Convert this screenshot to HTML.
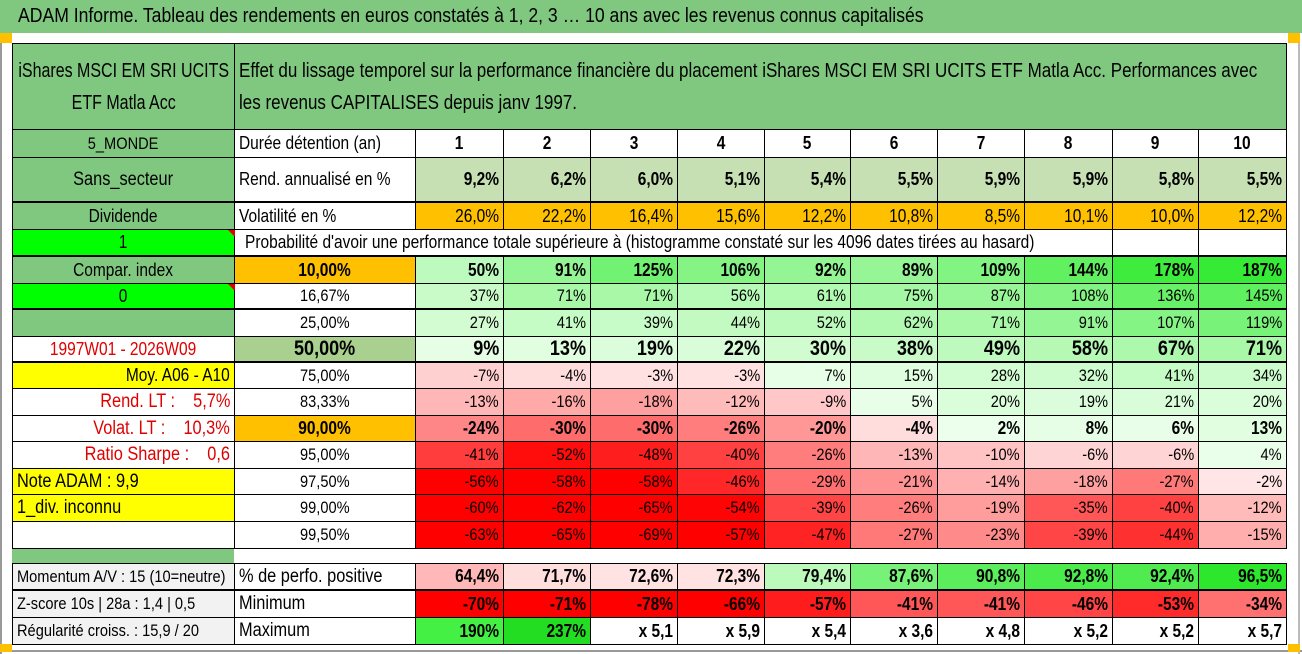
<!DOCTYPE html>
<html><head><meta charset="utf-8">
<style>
body{margin:0;width:1302px;height:654px;overflow:hidden;background:#fff;position:relative;font-family:"Liberation Sans",sans-serif;color:#000}
.c{position:absolute;box-sizing:border-box;border-right:1px solid #000;border-bottom:1px solid #000;display:flex;align-items:center;font-size:17px;white-space:nowrap;overflow:hidden}
.c span{display:inline-block;transform:scaleX(0.86)}
.r{justify-content:flex-end;padding-right:4px}
.r span{transform-origin:right center}
.m{justify-content:center}
.l{justify-content:flex-start;padding-left:4px}
.l span{transform-origin:left center}
.b{font-weight:bold}
</style></head><body>
<div style="position:absolute;left:0;top:0;width:1302px;height:33px;background:#80c880;font-size:20px;line-height:33px;padding-left:18px;box-sizing:border-box;white-space:nowrap"><span style="display:inline-block;transform:scaleX(0.88);transform-origin:left center">ADAM Informe. Tableau des rendements en euros constatés à 1, 2, 3 … 10 ans avec les revenus connus capitalisés</span></div>
<div style="position:absolute;left:0;top:33px;width:2px;height:621px;background:#999"></div>
<div style="position:absolute;left:1298px;top:33px;width:2px;height:621px;background:#bbb"></div>
<div style="position:absolute;left:0;top:650px;width:1302px;height:2px;background:#999"></div>
<div style="position:absolute;left:0;top:33px;width:12px;height:10px;background:#ffc000"></div>
<div style="position:absolute;left:1288px;top:33px;width:12px;height:10px;background:#ffc000"></div>
<div style="position:absolute;left:0;top:644px;width:12px;height:8px;background:#ffc000"></div>
<div style="position:absolute;left:1288px;top:644px;width:12px;height:8px;background:#ffc000"></div>
<div id="t"></div>
<script>
const durations=[1,2,3,4,5,6,7,8,9,10];
const rendement=[9.2,6.2,6.0,5.1,5.4,5.5,5.9,5.9,5.8,5.5];
const volatilite=[26.0,22.2,16.4,15.6,12.2,10.8,8.5,10.1,10.0,12.2];
const probLevels=["10,00%","16,67%","25,00%","50,00%","75,00%","83,33%","90,00%","95,00%","97,50%","99,00%","99,50%"];
const p10=[50,91,125,106,92,89,109,144,178,187];
const p16=[37,71,71,56,61,75,87,108,136,145];
const p25=[27,41,39,44,52,62,71,91,107,119];
const p50=[9,13,19,22,30,38,49,58,67,71];
const p75=[-7,-4,-3,-3,7,15,28,32,41,34];
const p83=[-13,-16,-18,-12,-9,5,20,19,21,20];
const p90=[-24,-30,-30,-26,-20,-4,2,8,6,13];
const p95=[-41,-52,-48,-40,-26,-13,-10,-6,-6,4];
const p975=[-56,-58,-58,-46,-29,-21,-14,-18,-27,-2];
const p99=[-60,-62,-65,-54,-39,-26,-19,-35,-40,-12];
const p995=[-63,-65,-69,-57,-47,-27,-23,-39,-44,-15];
const pctPositive=[64.4,71.7,72.6,72.3,79.4,87.6,90.8,92.8,92.4,96.5];
const minimum=[-70,-71,-78,-66,-57,-41,-41,-46,-53,-34];
const maximum=[190,237,5.1,5.9,5.4,3.6,4.8,5.2,5.2,5.7];

const X=[12,234,415,503,590,677,764,850,937,1024,1112,1198,1286];
const T=document.getElementById('t');
function fmt(v,d){return v.toFixed(d).replace('.',',');}
function lerp(a,b,t){return Math.round(a+(b-a)*t);}
function heat(v){
  if(v>=0){const t=Math.min(1,v/190);return `rgb(${lerp(238,50,t)},${lerp(255,235,t)},${lerp(238,50,t)})`;}
  const t=Math.min(1,-v/55);return `rgb(255,${lerp(238,0,t)},${lerp(238,0,t)})`;
}
function posColor(v){
  if(v<75){const t=Math.min(1,(75-v)/15);return `rgb(255,${lerp(240,160,t)},${lerp(240,160,t)})`;}
  const t=Math.min(1,(v-75)/22);return `rgb(${lerp(225,40,t)},${lerp(255,230,t)},${lerp(225,40,t)})`;
}
function cell(x1,x2,y1,y2,txt,cls,bg,extra,name,bb){
  const d=document.createElement('div');
  d.className='c '+cls;
  d.style.left=x1+'px';d.style.top=y1+'px';d.style.width=(x2-x1+1)+'px';d.style.height=(y2-y1+1)+'px';
  if(bg)d.style.background=bg;
  if(bb)d.style.borderBottom=bb+'px solid #000';
  if(extra)d.style.cssText+=extra;
  const s=document.createElement('span');
  s.textContent=txt;
  d.appendChild(s);
  
  
  T.appendChild(d);return d;
}
const G='#80c880';
const lb=document.createElement('div');lb.style.cssText='position:absolute;left:12px;top:43px;width:1px;height:506px;background:#000';


T.appendChild(lb);
const tl=document.createElement('div');tl.style.cssText='position:absolute;left:12px;top:43px;width:1275px;height:1px;background:#000';


T.appendChild(tl);
let h=cell(13,X[1],44,129,'',"m",G,'font-size:20px;line-height:32px;align-items:flex-start;padding-top:11px;','fund-name');
h.firstChild.innerHTML='iShares MSCI EM SRI UCITS<br>ETF Matla Acc';
h.firstChild.style.textAlign='center';
h.firstChild.style.transform='scaleX(0.8)';
h=cell(X[1]+1,X[12],44,129,'',"l",G,'font-size:20px;line-height:32px;align-items:flex-start;padding-top:11px;','table-description');
h.firstChild.innerHTML='Effet du lissage temporel sur la performance financière du placement iShares MSCI EM SRI UCITS ETF Matla Acc. Performances avec<br>les revenus CAPITALISES depuis janv 1997.';
h.firstChild.style.transform='scaleX(0.85)';
function valueRow(y1,y2,c1,c1cls,c1bg,c1style,c2,c2cls,c2bg,vals,bgf,cls,name,bb,c2style){
  cell(13,X[1],y1,y2,c1,c1cls,c1bg,c1style||'',name+'-label',bb);
  cell(X[1]+1,X[2],y1,y2,c2,c2cls,c2bg,c2style||'',name+'-level',bb);
  vals.forEach((v,i)=>{cell(X[i+2]+1,X[i+3],y1,y2,v.t,cls,v.bg,v.s||'',name+'-d'+durations[i],bb);});
}
valueRow(130,157,'5_MONDE','m',G,'','Durée détention (an)','l','#fff',durations.map(d=>({t:String(d),bg:'#fff',s:'font-size:18px;'})),null,'m b','duration-row',0,'font-size:18px;');
valueRow(158,202,'Sans_secteur','m',G,'font-size:19px;','Rend. annualisé en %','l','#fff',rendement.map(v=>({t:fmt(v,1)+'%',bg:'#c6e0b4',s:'font-size:18px;'})),null,'r b','rendement-row',2,'font-size:18px;');
valueRow(203,229,'Dividende','m',G,'font-size:18px;','Volatilité en %','l','#fff',volatilite.map(v=>({t:fmt(v,1)+'%',bg:'#ffc000',s:'font-size:18px;'})),null,'r','volatilite-row',0,'font-size:18px;');
cell(13,X[1],230,256,'1','m','#00ff00','font-size:18px;','prob-flag',2);
cell(X[1]+1,X[10],230,256,"Probabilité d'avoir une performance totale supérieure à (histogramme constaté sur les 4096 dates tirées au hasard)",'l','#fff','padding-left:10px;font-size:18px;','prob-caption',2);
cell(X[10]+1,X[11],230,256,'','m','#fff','','prob-empty-9',2);
cell(X[11]+1,X[12],230,256,'','m','#fff','','prob-empty-10',2);
const rows=[
 [257,283,'Compar. index','m',G,'font-size:18px;',probLevels[0],'m b','#ffc000',p10,'r b',0,'font-size:18px;'],
 [284,309,'0','m','#00ff00','font-size:18px;',probLevels[1],'m','#fff',p16,'r',2,''],
 [310,336,'','m',G,'',probLevels[2],'m','#fff',p25,'r',0,''],
 [337,362,'1997W01 - 2026W09','m','#fff','color:#e00000;font-size:18px;',probLevels[3],'m b','#a9d08e',p50,'r b',2,'font-size:21px;'],
 [363,388,'Moy. A06 - A10','r','#ffff00','font-size:18px;',probLevels[4],'m','#fff',p75,'r',0,''],
 [389,415,'Rend. LT :    5,7%','r','#fff','color:#e00000;font-size:19px;white-space:pre;',probLevels[5],'m','#fff',p83,'r',0,''],
 [416,441,'Volat. LT :    10,3%','r','#fff','color:#e00000;font-size:19px;white-space:pre;',probLevels[6],'m b','#ffc000',p90,'r b',0,'font-size:18px;'],
 [442,468,'Ratio Sharpe :    0,6','r','#fff','color:#e00000;font-size:19px;white-space:pre;',probLevels[7],'m','#fff',p95,'r',0,''],
 [469,494,'Note ADAM : 9,9','l','#ffff00','font-size:19px;',probLevels[8],'m','#fff',p975,'r',0,''],
 [495,521,'1_div. inconnu','l','#ffff00','font-size:19px;',probLevels[9],'m','#fff',p99,'r',0,''],
 [522,548,'','m','#fff','',probLevels[10],'m','#fff',p995,'r',0,'']
];
rows.forEach((r,k)=>{
  const big=r[12];
  valueRow(r[0],r[1],r[2],r[3],r[4],r[5],r[6],r[7],r[8],r[9].map(v=>({t:v+'%',bg:heat(v),s:big})),null,r[10],'prob-row-'+k,r[11],big);
});
[[230],[284]].forEach((a,i)=>{const tr=document.createElement('div');
 tr.style.cssText=`position:absolute;left:${X[1]-6}px;top:${a[0]}px;width:0;height:0;border-left:7px solid transparent;border-top:7px solid #e00000`;
 
 
 T.appendChild(tr);});
const sp=document.createElement('div');sp.style.cssText='position:absolute;left:12px;top:549px;width:222px;height:14px;background:'+G;


T.appendChild(sp);
const st=document.createElement('div');st.style.cssText='position:absolute;left:12px;top:563px;width:1275px;height:1px;background:#000';


T.appendChild(st);
const sl=document.createElement('div');sl.style.cssText='position:absolute;left:12px;top:563px;width:1px;height:82px;background:#000';


T.appendChild(sl);
const LG='#f2f2f2';
valueRow(564,590,'Momentum A/V : 15 (10=neutre)','l',LG,'font-size:17px;','% de perfo. positive','l','#fff',pctPositive.map(v=>({t:fmt(v,1)+'%',bg:posColor(v),s:'font-size:18px;'})),null,'r b','positive-row',2,'font-size:19px;');
valueRow(591,617,'Z-score 10s | 28a : 1,4 | 0,5','l',LG,'font-size:17px;','Minimum','l','#fff',minimum.map(v=>({t:v+'%',bg:heat(v*0.85),s:'font-size:18px;'})),null,'r b','minimum-row',0,'font-size:19px;');
valueRow(618,644,'Régularité croiss. : 15,9 / 20','l',LG,'font-size:17px;','Maximum','l','#fff',maximum.map((v,i)=>(v>=10?{t:v+'%',bg:i==0?'#44f044':'#22dd22',s:'font-size:18px;'}:{t:'x '+fmt(v,1),bg:'#fff',s:'font-size:18px;'})),null,'r b','maximum-row',0,'font-size:19px;');
</script>
</body></html>
